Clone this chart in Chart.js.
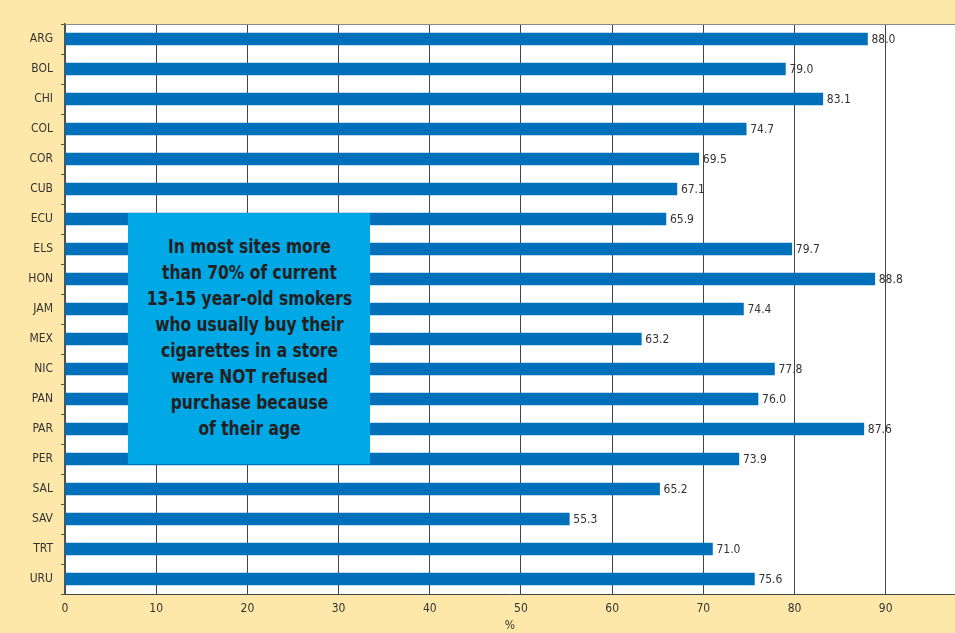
<!DOCTYPE html>
<html>
<head>
<meta charset="utf-8">
<script src="https://cdn.jsdelivr.net/npm/chart.js@4/dist/chart.umd.min.js"></script>
<style>
  html, body { margin: 0; padding: 0; overflow: hidden; background: #fee8a9; }
  #wrap { position: relative; width: 955px; height: 633px; }
  #note {
    position: absolute; left: 128px; top: 213px; width: 242px; height: 251px;
    background: #00a8e6; color: #231f20;
    font-family: "Liberation Sans Narrow", "DejaVu Sans Condensed", "Roboto", sans-serif;
    font-weight: bold; font-size: 20px; line-height: 26px; text-align: center;
    box-sizing: border-box; padding-top: 20px; overflow: hidden;
  }
  #note span { display: inline-block; transform: scaleX(0.86); transform-origin: center; white-space: nowrap; }
</style>
</head>
<body>
<div id="wrap">
  <canvas id="c" width="955" height="633"></canvas>
  <div id="note"><span>In most sites more<br>than 70% of current<br>13-15 year-old smokers<br>who usually buy their<br>cigarettes in a store<br>were NOT refused<br>purchase because<br>of their age</span></div>
</div>
<script>
const countries = ["ARG","BOL","CHI","COL","COR","CUB","ECU","ELS","HON","JAM","MEX","NIC","PAN","PAR","PER","SAL","SAV","TRT","URU"];
const notRefused = [88.0, 79.0, 83.1, 74.7, 69.5, 67.1, 65.9, 79.7, 88.8, 74.4, 63.2, 77.8, 76.0, 87.6, 73.9, 65.2, 55.3, 71.0, 75.6];
const xTicks = [0, 10, 20, 30, 40, 50, 60, 70, 80, 90];

const FONT = '"Liberation Sans Narrow", "DejaVu Sans Condensed", "Roboto", sans-serif';

// Yellow page, white plot area and a thin rule along the top of the plot
const panel = {
  id: 'panel',
  beforeDraw(chart) {
    const { ctx, chartArea: a } = chart;
    ctx.save();
    ctx.fillStyle = '#fee8a9';
    ctx.fillRect(0, 0, chart.width, chart.height);
    ctx.fillStyle = '#ffffff';
    ctx.fillRect(a.left, a.top, a.right - a.left, a.bottom - a.top);
    ctx.restore();
  },
  afterDraw(chart) {
    const { ctx, chartArea: a } = chart;
    ctx.save();
    ctx.strokeStyle = '#8a8a8a';
    ctx.lineWidth = 1;
    ctx.beginPath();
    ctx.moveTo(a.left, a.top + 0.5);
    ctx.lineTo(a.right, a.top + 0.5);
    ctx.stroke();
    ctx.restore();
  }
};

// Value written just past the end of each bar
const barValues = {
  id: 'barValues',
  afterDatasetsDraw(chart) {
    const { ctx } = chart;
    const meta = chart.getDatasetMeta(0);
    ctx.save();
    ctx.font = '12px ' + FONT;
    ctx.fillStyle = '#333333';
    ctx.textAlign = 'left';
    ctx.textBaseline = 'middle';
    meta.data.forEach((bar, i) => {
      ctx.fillText(notRefused[i].toFixed(1), bar.x + 4, bar.y + 1);
    });
    ctx.restore();
  }
};

new Chart(document.getElementById('c'), {
  type: 'bar',
  data: {
    labels: countries,
    datasets: [{
      data: notRefused,
      backgroundColor: '#0070bb',
      barThickness: 12,
      borderWidth: 0
    }]
  },
  options: {
    indexAxis: 'y',
    responsive: false,
    animation: false,
    layout: { padding: { top: 24, right: 0, left: 0, bottom: 0 } },
    plugins: { legend: { display: false }, tooltip: { enabled: false } },
    scales: {
      x: {
        min: 0,
        max: 97.6,
        afterBuildTicks(scale) { scale.ticks = xTicks.map(v => ({ value: v })); },
        afterFit(scale) { scale.height = 39; },
        grid: { color: '#444444', lineWidth: 1, drawTicks: false },
        border: { color: '#444444', width: 1 },
        ticks: { color: '#333333', font: { family: FONT, size: 12 }, padding: 8, maxRotation: 0 },
        title: { display: true, text: '%', color: '#333333', font: { family: FONT, size: 12 }, padding: { top: 1, bottom: 0 } }
      },
      y: {
        afterFit(scale) { scale.width = 65; },
        grid: { offset: true, drawOnChartArea: false, drawTicks: true, tickLength: 4, color: '#555555' },
        border: { color: '#555555', width: 1.5 },
        ticks: { color: '#333333', font: { family: FONT, size: 12 }, padding: 8 }
      }
    }
  },
  plugins: [panel, barValues]
});
</script>
</body>
</html>
